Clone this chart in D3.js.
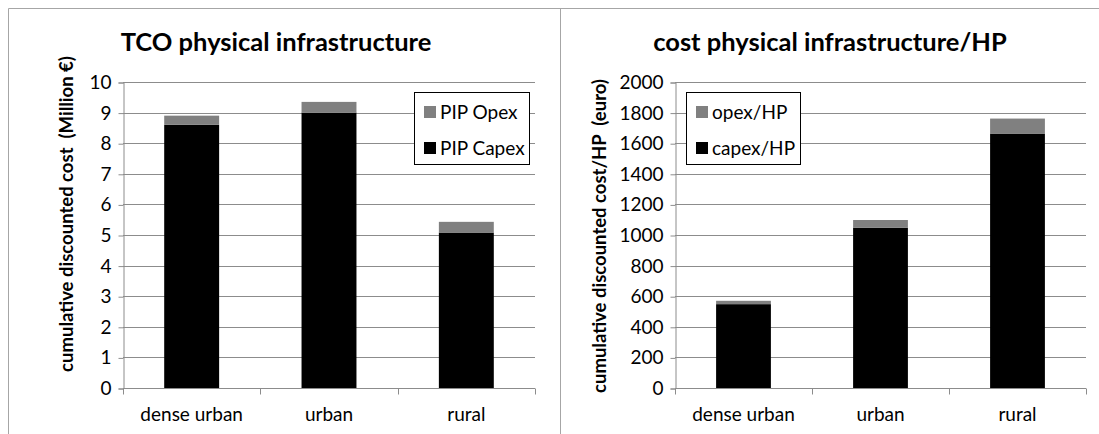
<!DOCTYPE html>
<html>
<head>
<meta charset="utf-8">
<script src="https://cdn.jsdelivr.net/npm/d3@7"></script>
<style>
  body { margin: 0; background: #fff; }
  svg { display: block; font-family: Lato, "Open Sans", sans-serif; }
</style>
</head>
<body>
<div id="chart"></div>
<script>
const categories = ["dense urban", "urban", "rural"];

// left panel, million euro
const tcoCapex = [8.6, 9.0, 5.08];
const tcoOpex = [0.3, 0.35, 0.35];

// right panel, euro per home passed
const hpCapex = [548, 1048, 1663];
const hpOpex = [22, 50, 98];

const W = 1099, H = 434;
const labelSize = 19;

const svg = d3.select("#chart").append("svg")
    .attr("width", W)
    .attr("height", H);

// chart area borders
svg.append("path")
    .attr("d", `M8.5,${H} V8.5 H${W}`)
    .attr("fill", "none").attr("stroke", "#a6a6a6");
svg.append("line")
    .attr("x1", 560.5).attr("x2", 560.5).attr("y1", 8.5).attr("y2", H)
    .attr("stroke", "#a6a6a6");

const drawPanel = (cfg) => {
    const g = svg.append("g");
    const x = d3.scaleBand()
        .domain(categories)
        .range([cfg.left, cfg.right])
        .paddingInner(0.6)
        .paddingOuter(0.3);
    const xTicks = d3.scaleBand().domain(categories).range([cfg.left, cfg.right]);
    const y = d3.scaleLinear()
        .domain([0, cfg.max])
        .range([388, 82]);

    // gridlines
    g.append("g")
        .selectAll("line")
        .data(y.ticks(10).filter(d => d > 0))
        .enter()
        .append("line")
        .attr("x1", cfg.left).attr("x2", cfg.right)
        .attr("y1", d => Math.round(y(d)) + 0.5)
        .attr("y2", d => Math.round(y(d)) + 0.5)
        .attr("stroke", "#8c8c8c");

    const yAxis = g.append("g")
        .attr("transform", `translate(${cfg.left + 0.5},0.5)`)
        .call(d3.axisLeft(y).ticks(10, "d").tickSize(5).tickPadding(7));
    yAxis.select(".domain").attr("stroke", "#8c8c8c");
    yAxis.selectAll(".tick line").attr("stroke", "#8c8c8c");
    yAxis.selectAll(".tick text")
        .attr("font-size", labelSize).attr("fill", "#000")
        .attr("font-family", "Lato, sans-serif");

    // stacked bars
    const rows = categories.map((c, i) => ({ cat: c, capex: cfg.capex[i], opex: cfg.opex[i] }));
    const stack = d3.stack().keys(["capex", "opex"])(rows);
    const colors = { capex: "#000000", opex: "#808080" };
    g.append("g")
        .selectAll("g")
        .data(stack)
        .enter()
        .append("g")
        .attr("fill", d => colors[d.key])
        .selectAll("rect")
        .data(d => d)
        .enter()
        .append("rect")
        .attr("x", d => x(d.data.cat))
        .attr("width", x.bandwidth())
        .attr("y", d => y(d[1]))
        .attr("height", d => y(d[0]) - y(d[1]));

    const xAxis = g.append("g")
        .attr("transform", `translate(0,${388.5})`)
        .call(d3.axisBottom(xTicks).tickSize(0).tickPadding(19));
    xAxis.select(".domain").remove();
    xAxis.append("line")
        .attr("x1", cfg.left).attr("x2", cfg.right)
        .attr("stroke", "#8c8c8c");
    xAxis.selectAll(".sep")
        .data([cfg.left, ...categories.map(c => xTicks(c) + xTicks.bandwidth())])
        .enter()
        .append("line")
        .attr("class", "sep")
        .attr("x1", d => Math.round(d) + 0.5).attr("x2", d => Math.round(d) + 0.5)
        .attr("y1", 0).attr("y2", 6)
        .attr("stroke", "#8c8c8c");
    xAxis.selectAll(".tick text")
        .attr("font-size", labelSize).attr("fill", "#000")
        .attr("font-family", "Lato, sans-serif");

    // title
    g.append("text")
        .attr("x", cfg.titleX).attr("y", 51)
        .attr("text-anchor", "middle")
        .attr("font-size", 25.5).attr("font-weight", "bold")
        .text(cfg.title);

    // y axis title
    g.append("text")
        .attr("transform", `translate(${cfg.yTitleX},${cfg.yTitleY}) rotate(-90)`)
        .attr("text-anchor", "middle")
        .attr("font-size", 18.5).attr("font-weight", "bold")
        .style("white-space", "pre")
        .text(cfg.yTitle);

    // legend
    const lg = g.append("g").attr("transform", `translate(${cfg.legendX},92)`);
    lg.append("rect")
        .attr("x", 0.5).attr("y", 0.5)
        .attr("width", cfg.legendW).attr("height", 72)
        .attr("fill", "#fff").attr("stroke", "#000");
    cfg.legend.forEach((name, i) => {
        const key = i === 0 ? "opex" : "capex";
        lg.append("rect")
            .attr("x", 10).attr("y", 14 + i * 36)
            .attr("width", 12).attr("height", 12)
            .attr("fill", colors[key]);
        lg.append("text")
            .attr("x", 26).attr("y", 27 + i * 36)
            .attr("font-size", labelSize)
            .text(name);
    });
};

drawPanel({
    left: 123, right: 535, max: 10,
    capex: tcoCapex, opex: tcoOpex,
    title: "TCO physical infrastructure", titleX: 276,
    yTitle: "cumulative discounted cost  (Million \u20ac)", yTitleX: 73, yTitleY: 214,
    legend: ["PIP Opex", "PIP Capex"], legendX: 414, legendW: 115
});

drawPanel({
    left: 675, right: 1086, max: 2000,
    capex: hpCapex, opex: hpOpex,
    title: "cost physical infrastructure/HP", titleX: 830,
    yTitle: "cumulative discounted cost/HP  (euro)", yTitleX: 606, yTitleY: 236,
    legend: ["opex/HP", "capex/HP"], legendX: 686, legendW: 114
});
</script>
</body>
</html>
